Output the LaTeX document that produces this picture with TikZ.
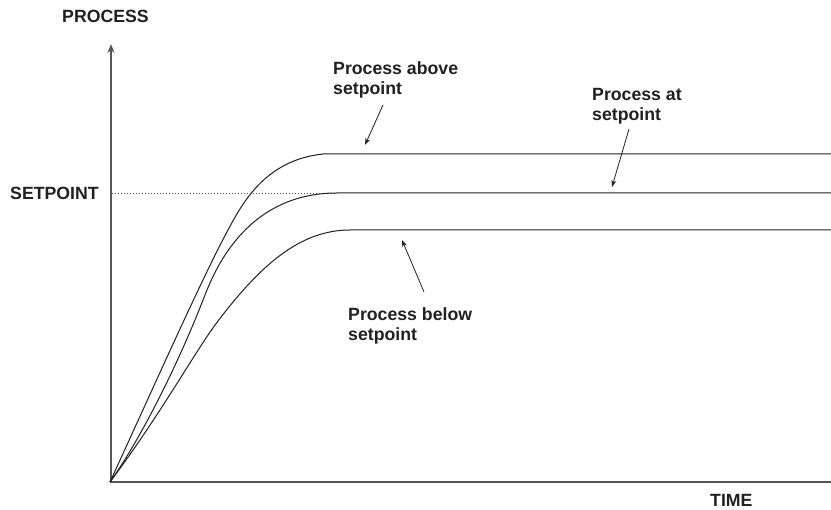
\documentclass[tikz,border=0pt]{standalone}
\usepackage{fontspec}
\setmainfont{Liberation Sans}
\usetikzlibrary{arrows.meta}
\definecolor{ink}{HTML}{231F20}
\definecolor{axisgray}{HTML}{555555}
\tikzset{
  lbl/.style={inner sep=0pt, anchor=base west, text=ink, font=\bfseries\fontsize{17.7}{20}\selectfont, align=left},
  curve/.style={draw=ink, line width=1pt},
  axis/.style={draw=axisgray, line width=1.6pt},
  pointer/.style={draw=ink, line width=0.8pt, -{Stealth[length=7pt,width=5pt]}},
  setline/.style={draw=axisgray, line width=0.8pt, dash pattern=on 1pt off 2pt}
}
\begin{document}
\begin{tikzpicture}[x=1pt,y=-1pt]
\useasboundingbox (0,0) rectangle (831,510);
% axes
\coordinate (O) at (111,482);
\coordinate (ytop) at (111,44);
\coordinate (xend) at (831,482);
\draw[axis, -{Stealth[length=9pt,width=7pt]}] (O) -- (ytop);
\draw[axis] (110,482) -- (xend);
% setpoint dotted line
\coordinate (sp0) at (112,193);
\coordinate (sp1) at (337,193);
\draw[setline] (sp0) -- (sp1);
% curves
\draw[curve] (110,482) .. controls (150,395) and (202,278) .. (228,230)
  .. controls (242,204) and (265,160) .. (323,154) -- (831,154);
\draw[curve] (110,482) .. controls (140,440) and (178,365) .. (205,295)
  .. controls (228,235) and (270,193) .. (337,193) -- (831,193);
\draw[curve] (110,482) .. controls (160,415) and (190,360) .. (215,325)
  .. controls (260,265) and (300,230) .. (350,230) -- (831,230);
% labels
\node[lbl] (process) at (62,23) {PROCESS};
\node[lbl] (setpoint) at (10,200) {SETPOINT};
\node[lbl] (time) at (710,507) {TIME};
\node[lbl] (above) at (333,95) {Process above\\setpoint};
\node[lbl] (at) at (592,121) {Process at\\setpoint};
\node[lbl] (below) at (348,341) {Process below\\setpoint};
% pointers
\coordinate (a0) at (383,105); \coordinate (a1) at (365,145);
\coordinate (b0) at (629,129); \coordinate (b1) at (612,187);
\coordinate (c0) at (424,292); \coordinate (c1) at (402,240);
\draw[pointer] (a0) -- (a1);
\draw[pointer] (b0) -- (b1);
\draw[pointer] (c0) -- (c1);
\end{tikzpicture}
\end{document}
